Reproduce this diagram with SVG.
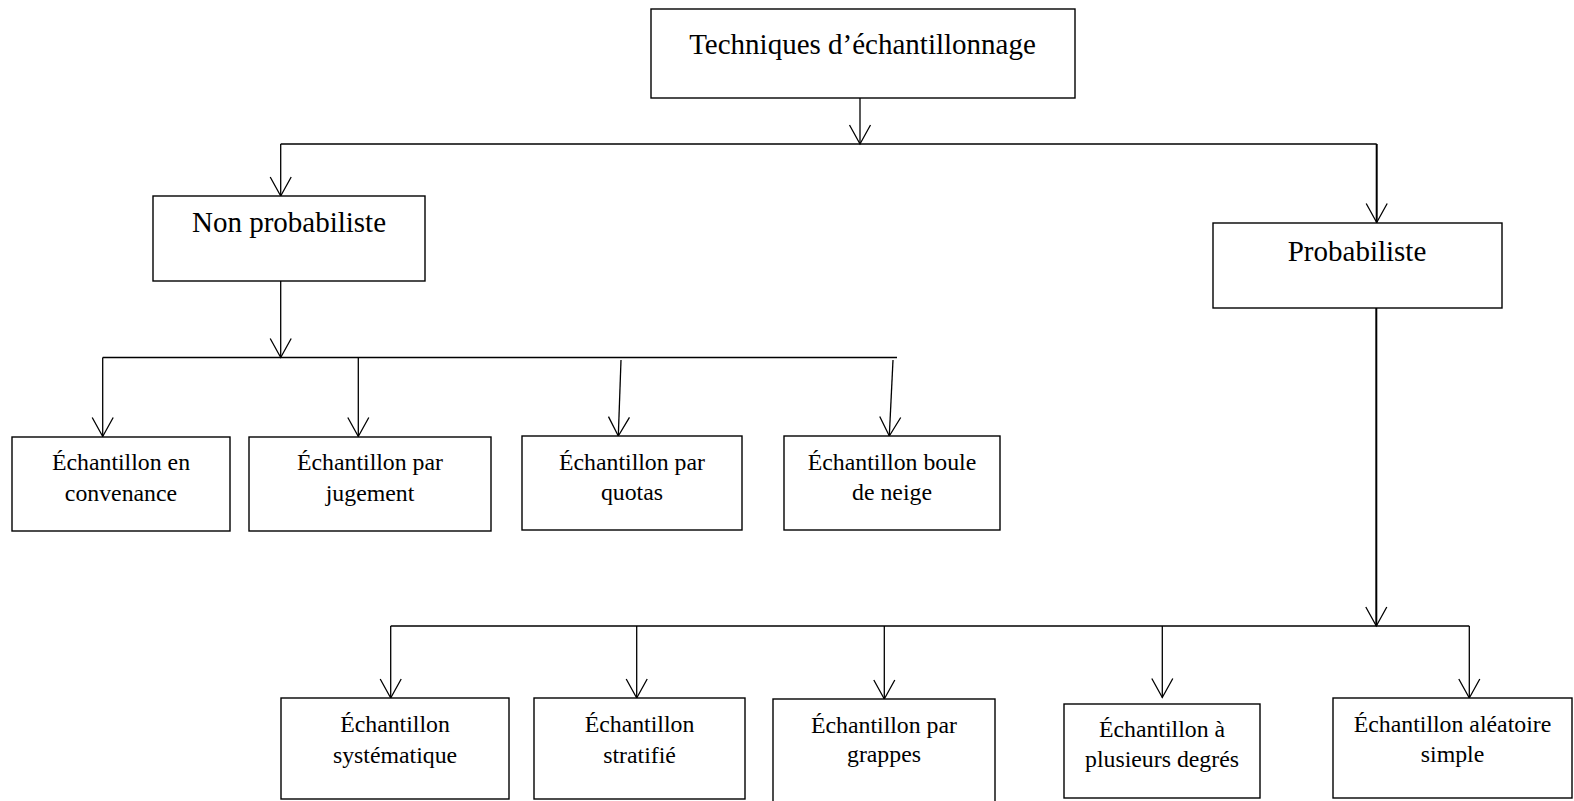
<svg xmlns="http://www.w3.org/2000/svg" width="1574" height="801" viewBox="0 0 1574 801">
  <style>
    .box { fill: #ffffff; stroke: #000000; stroke-width: 1.4; }
    .t1 { font-family: "Liberation Serif", "Times New Roman", serif; font-size: 29px; fill: #000; text-anchor: middle; }
    .t2 { font-family: "Liberation Serif", "Times New Roman", serif; font-size: 23.8px; fill: #000; text-anchor: middle; }
    .c { fill: none; stroke: #000; stroke-width: 1.3; }
    .ck { fill: none; stroke: #000; stroke-width: 2; }
    .a { marker-end: url(#v); }
  </style>
  <defs>
    <marker id="v" markerUnits="userSpaceOnUse" markerWidth="24" markerHeight="24" viewBox="-21 -12 23 24" refX="0" refY="0" orient="auto" overflow="visible">
      <path d="M-19,-10.5 L0,0 L-19,10.5" fill="none" stroke="#000" stroke-width="1.3"/>
    </marker>
  </defs>
  <rect width="1574" height="801" fill="#ffffff"/>

  <g id="connectors">
    <path class="c a" d="M860,98 V144"/>
    <path class="c" d="M280.7,144 H1376.7"/>
    <path class="c a" d="M280.7,144 V196"/>
    <path class="ck a" d="M1376.7,144 V222.5"/>
    <path class="c a" d="M280.7,281 V357.5"/>
    <path class="c" d="M102.7,357.5 H897"/>
    <path class="c a" d="M102.7,357.5 V436.5"/>
    <path class="c a" d="M358.3,357.5 V436.5"/>
    <path class="c a" d="M621,360 L618.3,436"/>
    <path class="c a" d="M893,360 L889.3,436"/>
    <path class="ck a" d="M1376.3,308 V626"/>
    <path class="c" d="M390.7,626 H1469.3"/>
    <path class="c a" d="M390.7,626 V698"/>
    <path class="c a" d="M636.7,626 V698"/>
    <path class="c a" d="M884.3,626 V699"/>
    <path class="c a" d="M1162.3,626 V697.5"/>
    <path class="c a" d="M1469.3,626 V698"/>
  </g>

  <g id="n-root">
    <rect class="box" x="651" y="9" width="424" height="89"/>
    <text class="t1" x="862.5" y="53.5">Techniques d’échantillonnage</text>
  </g>
  <g id="n-nonprob">
    <rect class="box" x="153" y="196" width="272" height="85"/>
    <text class="t1" x="289" y="231.7">Non probabiliste</text>
  </g>
  <g id="n-prob">
    <rect class="box" x="1213" y="223" width="289" height="85"/>
    <text class="t1" x="1357" y="261">Probabiliste</text>
  </g>

  <g id="n-convenance">
    <rect class="box" x="12" y="437" width="218" height="94"/>
    <text class="t2" x="121" y="470">Échantillon en</text>
    <text class="t2" x="121" y="501">convenance</text>
  </g>
  <g id="n-jugement">
    <rect class="box" x="249" y="437" width="242" height="94"/>
    <text class="t2" x="370" y="470">Échantillon par</text>
    <text class="t2" x="370" y="501">jugement</text>
  </g>
  <g id="n-quotas">
    <rect class="box" x="522" y="436" width="220" height="94"/>
    <text class="t2" x="632" y="470">Échantillon par</text>
    <text class="t2" x="632" y="500">quotas</text>
  </g>
  <g id="n-boule">
    <rect class="box" x="784" y="436" width="216" height="94"/>
    <text class="t2" x="892" y="470">Échantillon boule</text>
    <text class="t2" x="892" y="500">de neige</text>
  </g>

  <g id="n-systematique">
    <rect class="box" x="281" y="698" width="228" height="101"/>
    <text class="t2" x="395" y="731.5">Échantillon</text>
    <text class="t2" x="395" y="762.5">systématique</text>
  </g>
  <g id="n-stratifie">
    <rect class="box" x="534" y="698" width="211" height="101"/>
    <text class="t2" x="639.5" y="731.5">Échantillon</text>
    <text class="t2" x="639.5" y="762.5">stratifié</text>
  </g>
  <g id="n-grappes">
    <rect class="box" x="773" y="699" width="222" height="103"/>
    <text class="t2" x="884" y="733">Échantillon par</text>
    <text class="t2" x="884" y="762">grappes</text>
  </g>
  <g id="n-degres">
    <rect class="box" x="1064" y="704" width="196" height="94"/>
    <text class="t2" x="1162" y="737">Échantillon à</text>
    <text class="t2" x="1162" y="767">plusieurs degrés</text>
  </g>
  <g id="n-aleatoire">
    <rect class="box" x="1333" y="698" width="239" height="100"/>
    <text class="t2" x="1452.5" y="732">Échantillon aléatoire</text>
    <text class="t2" x="1452.5" y="762">simple</text>
  </g>
</svg>
